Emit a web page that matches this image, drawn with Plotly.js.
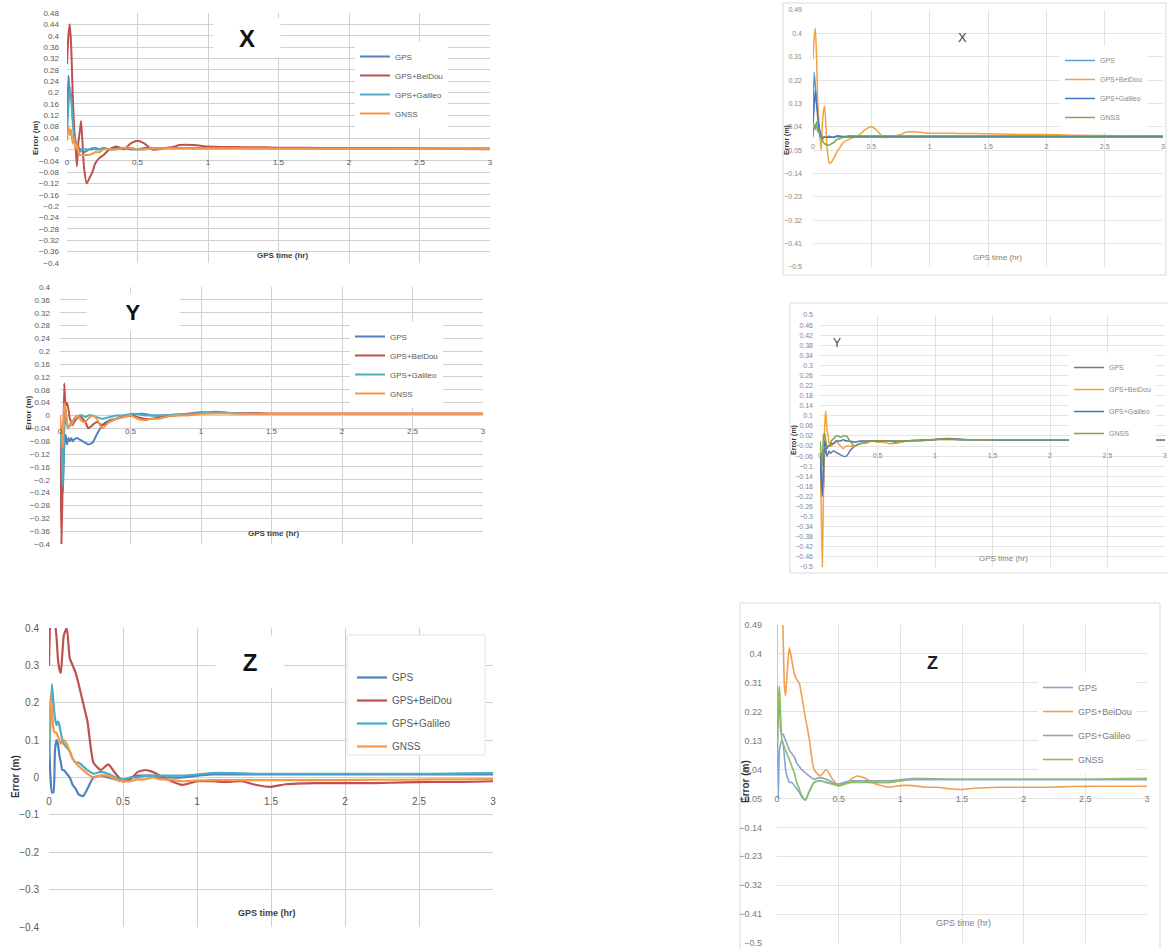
<!DOCTYPE html>
<html><head><meta charset="utf-8">
<script src="https://cdn.plot.ly/plotly-3.0.1.min.js"></script>
<style>html,body{margin:0;padding:0;background:#fff;}#chart{width:1168px;height:949px;}</style>
</head><body><div id="chart"></div>
<script>
// ---------------- DATA ----------------
const TIME = [0,0.01,0.02,0.03,0.04,0.05,0.06,0.07,0.08,0.09,0.10,0.12,0.14,0.16,0.18,0.20,0.23,0.26,0.30,0.35,0.40,0.45,0.50,0.55,0.60,0.65,0.70,0.75,0.80,0.90,1.00,1.10,1.20,1.30,1.40,1.50,1.60,1.80,2.00,2.20,2.40,2.60,2.80,3.00];
const SERIES_NAMES = ['GPS','GPS+BeiDou','GPS+Galileo','GNSS'];
const X_TICKS = [0,0.5,1,1.5,2,2.5,3];

// Left X panel
const LX_GPS     = [0.10,0.26,0.18,0.20,0.12,0.06,0.03,0.02,0.01,0.00,0.00,-0.01,-0.005,0.00,0.00,0.005,0.00,0.005,0.00,0.005,0.005,0.00,0.00,0.005,0.005,0.005,0.005,0.005,0.005,0.005,0.005,0.005,0.005,0.005,0.005,0.005,0.005,0.004,0.004,0.004,0.004,0.003,0.003,0.003];
const LX_BEIDOU  = [0.30,0.40,0.44,0.36,0.20,0.08,0.02,-0.06,0.02,0.06,0.10,-0.06,-0.12,-0.10,-0.08,-0.05,-0.03,-0.02,0.00,0.01,0.00,0.02,0.03,0.02,0.00,0.00,0.005,0.008,0.015,0.015,0.01,0.008,0.008,0.007,0.007,0.006,0.006,0.005,0.005,0.004,0.003,0.002,0.001,0.00];
const LX_GALILEO = [0.05,0.15,0.22,0.18,0.10,0.05,0.03,0.01,0.00,-0.01,-0.005,0.00,0.00,0.00,0.005,0.00,0.00,0.005,0.00,0.00,0.005,0.005,0.00,0.00,0.005,0.005,0.005,0.005,0.005,0.004,0.004,0.004,0.004,0.004,0.004,0.004,0.003,0.003,0.003,0.003,0.003,0.003,0.003,0.003];
const LX_GNSS    = [0.03,0.08,0.05,0.07,0.02,0.04,0.00,0.02,-0.01,-0.02,-0.02,-0.02,-0.02,-0.02,-0.015,-0.01,-0.01,0.00,0.00,0.00,0.005,0.005,0.00,0.00,0.003,0.003,0.003,0.003,0.003,0.003,0.003,0.003,0.003,0.003,0.003,0.002,0.002,0.002,0.002,0.002,0.002,0.002,0.002,0.002];

// Left Y panel
const LY_GPS     = [-0.05,-0.12,-0.24,-0.10,-0.06,-0.09,-0.07,-0.08,-0.07,-0.08,-0.075,-0.07,-0.075,-0.08,-0.085,-0.09,-0.085,-0.06,-0.03,-0.015,-0.01,-0.005,0.00,0.005,0.005,0.00,0.00,0.00,0.00,0.003,0.006,0.012,0.008,0.006,0.006,0.005,0.005,0.005,0.005,0.005,0.005,0.005,0.005,0.005];
const LY_BEIDOU  = [-0.05,-0.40,-0.18,0.10,0.03,0.04,0.02,-0.01,-0.02,-0.03,-0.02,-0.01,0.00,-0.01,-0.02,-0.04,-0.03,-0.02,-0.03,-0.02,-0.01,0.00,0.00,-0.005,-0.01,-0.01,-0.005,0.00,0.00,0.005,0.01,0.008,0.008,0.007,0.007,0.006,0.006,0.006,0.006,0.006,0.006,0.006,0.006,0.006];
const LY_GALILEO = [-0.02,-0.10,-0.22,-0.05,0.02,-0.03,-0.04,-0.03,-0.02,-0.02,-0.01,-0.01,0.00,0.00,-0.005,0.00,0.00,-0.005,-0.01,-0.005,0.00,0.00,0.005,0.005,0.00,0.00,0.00,0.00,0.003,0.005,0.008,0.01,0.008,0.006,0.005,0.005,0.005,0.005,0.005,0.005,0.005,0.005,0.005,0.005];
const LY_GNSS    = [0.00,-0.05,-0.10,0.04,0.02,-0.02,-0.04,-0.03,-0.03,-0.02,-0.01,0.00,-0.01,-0.02,-0.02,-0.01,0.00,-0.01,-0.04,-0.02,-0.01,-0.005,0.00,-0.01,-0.015,-0.01,-0.01,-0.005,0.00,0.00,0.005,0.006,0.006,0.005,0.005,0.005,0.005,0.005,0.005,0.005,0.005,0.005,0.005,0.005];

// Left Z panel
const LZ_GPS     = [0.10,0.00,-0.04,-0.04,0.07,0.10,0.09,0.06,0.04,0.02,0.02,0.01,0.00,-0.02,-0.03,-0.045,-0.05,-0.03,0.00,0.005,0.00,-0.005,-0.01,0.00,0.005,0.005,0.005,0.00,0.00,0.00,0.005,0.008,0.008,0.008,0.008,0.008,0.008,0.008,0.008,0.008,0.008,0.008,0.008,0.008];
const LZ_BEIDOU  = [0.30,0.45,0.48,0.45,0.42,0.38,0.32,0.29,0.28,0.33,0.38,0.40,0.32,0.30,0.28,0.25,0.20,0.15,0.04,0.02,0.035,0.01,-0.01,-0.005,0.015,0.02,0.015,0.005,-0.005,-0.02,-0.01,-0.01,-0.012,-0.01,-0.02,-0.025,-0.018,-0.015,-0.015,-0.015,-0.013,-0.012,-0.012,-0.01];
const LZ_GALILEO = [0.05,0.15,0.25,0.20,0.16,0.14,0.15,0.14,0.12,0.10,0.09,0.08,0.07,0.05,0.04,0.04,0.03,0.02,0.01,0.015,0.01,0.00,-0.005,0.00,0.00,0.005,0.005,0.005,0.005,0.005,0.008,0.012,0.012,0.011,0.01,0.01,0.01,0.01,0.01,0.01,0.01,0.01,0.011,0.012];
const LZ_GNSS    = [0.10,0.22,0.18,0.13,0.12,0.12,0.11,0.10,0.09,0.10,0.10,0.09,0.07,0.05,0.04,0.03,0.02,0.01,0.00,0.005,0.005,-0.005,-0.01,-0.01,-0.005,-0.005,0.00,-0.005,-0.005,-0.01,-0.008,-0.007,-0.007,-0.007,-0.007,-0.007,-0.007,-0.007,-0.007,-0.006,-0.006,-0.005,-0.005,-0.004];

// Right X panel
const RX_GPS     = [0.10,0.25,0.20,0.15,0.10,0.05,0.02,0.01,0.00,0.00,0.00,0.00,0.005,0.00,0.00,0.005,0.005,0.00,0.005,0.005,0.005,0.005,0.005,0.005,0.005,0.005,0.005,0.005,0.005,0.005,0.005,0.005,0.005,0.005,0.005,0.005,0.005,0.005,0.005,0.005,0.005,0.005,0.005,0.005];
const RX_BEIDOU  = [0.30,0.38,0.42,0.32,0.15,0.05,0.00,-0.05,0.05,0.10,0.12,-0.04,-0.10,-0.095,-0.08,-0.06,-0.04,-0.02,-0.01,0.00,0.01,0.03,0.04,0.025,0.00,0.00,0.005,0.01,0.02,0.02,0.015,0.015,0.015,0.014,0.014,0.013,0.012,0.01,0.01,0.008,0.007,0.006,0.005,0.005];
const RX_GALILEO = [0.05,0.12,0.18,0.13,0.08,0.04,0.02,0.00,-0.01,0.00,0.00,0.00,0.00,0.00,0.00,0.003,0.003,0.003,0.003,0.003,0.003,0.003,0.003,0.003,0.003,0.003,0.003,0.003,0.003,0.003,0.003,0.003,0.003,0.003,0.003,0.003,0.003,0.003,0.003,0.003,0.003,0.003,0.003,0.003];
const RX_GNSS    = [0.00,0.05,0.03,0.06,0.02,0.03,0.00,0.00,-0.01,-0.02,-0.025,-0.03,-0.03,-0.025,-0.02,-0.01,-0.005,0.00,0.00,0.00,0.00,0.00,0.00,0.00,0.00,0.00,0.00,0.00,0.00,0.00,0.00,0.00,0.00,0.00,0.00,0.00,0.00,0.00,0.00,0.00,0.00,0.00,0.00,0.00];

// Right Y panel
const RY_GPS     = [-0.05,-0.10,-0.18,-0.20,-0.05,-0.03,-0.06,-0.05,-0.04,-0.05,-0.045,-0.04,-0.045,-0.05,-0.055,-0.06,-0.06,-0.04,-0.02,-0.01,-0.005,0.00,0.00,0.00,0.00,-0.005,-0.005,0.00,0.00,0.002,0.005,0.01,0.008,0.005,0.005,0.004,0.004,0.004,0.004,0.004,0.004,0.004,0.004,0.004];
const RY_BEIDOU  = [-0.10,-0.25,-0.50,-0.20,0.05,0.12,0.05,0.02,-0.01,-0.02,-0.02,-0.01,0.00,-0.01,-0.02,-0.03,-0.02,-0.02,-0.02,-0.01,-0.01,0.00,-0.005,-0.005,-0.01,-0.01,-0.005,0.00,0.00,0.002,0.005,0.005,0.005,0.005,0.005,0.005,0.005,0.005,0.005,0.005,0.005,0.005,0.005,0.005];
const RY_GALILEO = [-0.05,-0.15,-0.22,-0.10,0.00,-0.02,-0.03,-0.02,-0.02,-0.015,-0.01,-0.01,0.00,0.00,0.00,0.005,0.00,0.00,-0.005,0.00,0.00,0.00,0.00,0.00,0.00,0.00,0.00,0.00,0.002,0.004,0.006,0.008,0.006,0.005,0.005,0.004,0.004,0.004,0.004,0.004,0.004,0.004,0.004,0.004];
const RY_GNSS    = [0.00,-0.05,-0.10,0.02,0.03,0.00,-0.02,-0.02,-0.02,-0.01,0.00,0.01,0.02,0.02,0.015,0.02,0.02,0.00,-0.02,-0.01,0.00,0.00,0.00,0.00,0.00,0.00,0.00,0.00,0.002,0.004,0.006,0.008,0.006,0.005,0.005,0.005,0.005,0.005,0.005,0.005,0.005,0.005,0.005,0.005];

// Right Z panel
const RZ_GPS     = [0.30,-0.05,0.10,0.12,0.13,0.12,0.08,0.04,0.02,0.01,0.00,0.00,-0.01,-0.02,-0.03,-0.045,-0.055,-0.03,0.00,0.005,0.00,-0.005,-0.01,0.00,0.005,0.005,0.005,0.00,0.00,0.00,0.005,0.008,0.008,0.008,0.008,0.008,0.008,0.008,0.008,0.008,0.008,0.008,0.008,0.008];
const RZ_BEIDOU  = [0.20,0.55,0.55,0.55,0.55,0.45,0.30,0.27,0.33,0.38,0.42,0.38,0.34,0.32,0.31,0.27,0.20,0.14,0.04,0.02,0.04,0.01,-0.01,-0.005,0.01,0.02,0.015,0.005,-0.005,-0.015,-0.01,-0.01,-0.015,-0.015,-0.02,-0.022,-0.018,-0.015,-0.015,-0.015,-0.013,-0.012,-0.012,-0.012];
const RZ_GALILEO = [0.10,0.20,0.25,0.16,0.15,0.15,0.14,0.13,0.12,0.11,0.10,0.09,0.08,0.06,0.05,0.04,0.03,0.02,0.01,0.015,0.01,0.00,-0.005,0.00,0.00,0.005,0.005,0.005,0.005,0.005,0.008,0.012,0.012,0.011,0.01,0.01,0.01,0.01,0.01,0.01,0.01,0.01,0.011,0.012];
const RZ_GNSS    = [0.05,0.25,0.30,0.20,0.13,0.12,0.11,0.10,0.09,0.08,0.07,0.05,0.03,0.00,-0.02,-0.04,-0.055,-0.03,0.00,0.005,0.00,-0.005,-0.01,-0.005,0.00,0.00,0.00,0.00,0.00,0.00,0.005,0.01,0.01,0.01,0.01,0.01,0.01,0.01,0.01,0.01,0.01,0.01,0.012,0.012];

// ---------------- LAYOUT / STYLE ----------------
const W = 1168, H = 949;
const fx = p => p / W;
const fy = p => 1 - p / H;

const LEFT_COLORS  = ['#4F81BD','#C0504D','#4BACC6','#F79646'];
const RX_COLORS    = ['#5B9BD5','#F2A33A','#4472C4','#70AD47'];
const RY_COLORS    = ['#5B7FA8','#F2A33A','#4472C4','#7FA548'];
const RZ_COLORS    = ['#7FA7D9','#F0A050','#8FA3BF','#8CBF5F'];

const PANELS = [
  {series:[LX_GPS,LX_BEIDOU,LX_GALILEO,LX_GNSS], colors:LEFT_COLORS, lw:2,
   x0:67, x1:490, yTop:13, yBot:263, yr:[-0.4,0.48], tick0:-0.4, dtick:0.04, tfs:8, ystand:7, xstand:7, tcol:'#595959',
   grid:'#d0d0d0', title:'X', tx:247, ty:38, tfont:{size:24, color:'#111', family:'Liberation Sans, Arial', weight:'bold'}, tbox:[64,36],
   gx:282, gy:255, gfont:8, gbold:true, ex:35, ey:138, efs:8,
   legX:355, legY:42, legFs:8, legGap:0, legColor:'#595959'},
  {series:[LY_GPS,LY_BEIDOU,LY_GALILEO,LY_GNSS], colors:LEFT_COLORS, lw:2,
   x0:60, x1:483, yTop:287, yBot:544, yr:[-0.4,0.4], tick0:-0.4, dtick:0.04, tfs:8, ystand:9, xstand:9, tcol:'#595959',
   grid:'#d0d0d0', title:'Y', tx:133, ty:312, tfont:{size:22, color:'#111', family:'Liberation Sans, Arial', weight:'bold'}, tbox:[90,34],
   gx:273, gy:533, gfont:8, gbold:true, ex:28, ey:413, efs:8,
   legX:350, legY:322, legFs:8, legGap:0, legColor:'#595959'},
  {series:[LZ_GPS,LZ_BEIDOU,LZ_GALILEO,LZ_GNSS], colors:LEFT_COLORS, lw:2.2,
   x0:49, x1:493, yTop:628, yBot:927, yr:[-0.4,0.4], tick0:-0.4, dtick:0.1, tfs:10, ystand:9, xstand:16, tcol:'#595959',
   grid:'#d0d0d0', title:'Z', tx:250, ty:662, tfont:{size:24, color:'#111', family:'Liberation Sans, Arial', weight:'bold'}, tbox:[66,50],
   gx:267, gy:913, gfont:9, gbold:true, ex:15, ey:777, efs:10,
   legX:352, legY:663, legFs:10, legGap:4, legColor:'#595959', legBox:[347,635,485,755]},
  {series:[RX_GPS,RX_BEIDOU,RX_GALILEO,RX_GNSS], colors:RX_COLORS, lw:1.5,
   x0:813, x1:1163, yTop:10, yBot:267, yr:[-0.5,0.49], tick0:-0.5, dtick:0.09, tfs:7, ystand:10, xstand:4, tcol:'#858585',
   grid:'#e3e3e3', title:'X', tx:962, ty:38, tfont:{size:13, color:'#444', family:'Liberation Sans, Arial'}, tbox:null,
   gx:997, gy:257, gfont:8, gbold:false, ex:787, ey:140, efs:7,
   legX:1060, legY:46, legFs:7, legGap:0, legColor:'#8a8a8a', frame:[783,3,1166,275]},
  {series:[RY_GPS,RY_BEIDOU,RY_GALILEO,RY_GNSS], colors:RY_COLORS, lw:1.5,
   x0:820, x1:1165, yTop:315, yBot:567, yr:[-0.5,0.5], tick0:-0.5, dtick:0.04, tfs:7, ystand:6, xstand:9, tcol:'#858585',
   grid:'#e3e3e3', title:'Y', tx:837, ty:343, tfont:{size:12, color:'#444', family:'Liberation Sans, Arial'}, tbox:null,
   gx:1003, gy:558, gfont:8, gbold:false, ex:794, ey:440, efs:7,
   legX:1069, legY:353, legFs:7, legGap:3, legColor:'#8a8a8a', frame:[790,303,1172,573]},
  {series:[RZ_GPS,RZ_BEIDOU,RZ_GALILEO,RZ_GNSS], colors:RZ_COLORS, lw:1.6,
   x0:777, x1:1147, yTop:625, yBot:943, yr:[-0.5,0.49], tick0:-0.5, dtick:0.09, tfs:9, ystand:14, xstand:10, tcol:'#7a7a7a',
   grid:'#e3e3e3', title:'Z', tx:933, ty:663, tfont:{size:18, color:'#222', family:'Liberation Sans, Arial', weight:'bold'}, tbox:null,
   gx:963, gy:923, gfont:9, gbold:false, ex:745, ey:782, efs:10,
   legX:1038, legY:673, legFs:9, legGap:5, legColor:'#7a7a7a', frame:[740,603,1160,952]}
];

const traces = [];
const layout = {
  width: W, height: H, autosize: false,
  margin: {l:0, r:0, t:0, b:0, pad:0},
  paper_bgcolor: '#ffffff', plot_bgcolor: 'rgba(0,0,0,0)',
  font: {family: 'Liberation Sans, Arial, sans-serif', color: '#595959'},
  showlegend: true,
  annotations: [], shapes: []
};

PANELS.forEach((p, i) => {
  const n = i + 1;
  const xa = n === 1 ? 'xaxis' : 'xaxis' + n;
  const ya = n === 1 ? 'yaxis' : 'yaxis' + n;
  const xr = n === 1 ? 'x' : 'x' + n;
  const yrName = n === 1 ? 'y' : 'y' + n;
  const lg = n === 1 ? 'legend' : 'legend' + n;
  const zeroPx = p.yTop + (p.yr[1] - 0) / (p.yr[1] - p.yr[0]) * (p.yBot - p.yTop);

  layout[xa] = {
    domain: [fx(p.x0), fx(p.x1)], range: [0, 3], tickmode: 'array', tickvals: X_TICKS,
    anchor: 'free', position: fy(zeroPx),
    showgrid: true, gridcolor: p.grid, gridwidth: 1, zeroline: false, showline: false,
    ticks: '', ticklabelstandoff: p.xstand, tickfont: {size: p.tfs, color: p.tcol},
    fixedrange: true
  };
  layout[ya] = {
    domain: [fy(p.yBot), fy(p.yTop)], range: p.yr, tick0: p.tick0, dtick: p.dtick, tickmode: 'linear',
    anchor: xr, showgrid: true, gridcolor: p.grid, gridwidth: 1, zeroline: false, showline: false,
    ticks: '', ticklabelstandoff: p.ystand, tickfont: {size: p.tfs, color: p.tcol},
    fixedrange: true
  };
  layout[lg] = {
    x: fx(p.legX), y: fy(p.legY), xanchor: 'left', yanchor: 'top',
    bgcolor: p.legBox ? 'rgba(0,0,0,0)' : '#ffffff', bordercolor: 'rgba(0,0,0,0)', borderwidth: 0,
    font: {size: p.legFs, color: p.legColor}, traceorder: 'grouped', tracegroupgap: p.legGap,
    itemwidth: 30
  };
  if (p.legBox) {
    layout.shapes.push({type: 'rect', xref: 'paper', yref: 'paper', layer: 'above',
      x0: fx(p.legBox[0]), x1: fx(p.legBox[2]), y0: fy(p.legBox[3]), y1: fy(p.legBox[1]),
      line: {color: '#e4e4e4', width: 1}, fillcolor: '#ffffff'});
  }

  SERIES_NAMES.forEach((name, k) => {
    traces.push({
      type: 'scatter', mode: 'lines', name: name,
      x: TIME, y: p.series[k],
      xaxis: xr, yaxis: yrName, legend: lg, legendgroup: 'p' + n + 's' + k,
      line: {color: p.colors[k], width: p.lw, shape: 'spline', smoothing: 0.5},
      hoverinfo: 'x+y+name'
    });
  });

  const ann = {
    xref: 'paper', yref: 'paper', x: fx(p.tx), y: fy(p.ty), xanchor: 'center', yanchor: 'middle',
    text: p.title, showarrow: false, font: p.tfont
  };
  if (p.tbox) { ann.bgcolor = '#ffffff'; ann.width = p.tbox[0]; ann.height = p.tbox[1]; }
  layout.annotations.push(ann);
  layout.annotations.push({
    xref: 'paper', yref: 'paper', x: fx(p.gx), y: fy(p.gy), xanchor: 'center', yanchor: 'middle',
    text: p.gbold ? '<b>GPS time (hr)</b>' : 'GPS time (hr)', showarrow: false,
    font: {size: p.gfont, color: p.gbold ? '#404040' : '#7f7f7f'}
  });
  layout.annotations.push({
    xref: 'paper', yref: 'paper', x: fx(p.ex), y: fy(p.ey), xanchor: 'center', yanchor: 'middle',
    text: '<b>Error (m)</b>', textangle: -90, showarrow: false,
    font: {size: p.efs, color: '#333'}
  });
  if (p.frame) {
    layout.shapes.push({type: 'rect', xref: 'paper', yref: 'paper', layer: 'below',
      x0: fx(p.frame[0]), x1: fx(p.frame[2]), y0: fy(p.frame[3]), y1: fy(p.frame[1]),
      line: {color: '#d9d9d9', width: 1}, fillcolor: 'rgba(0,0,0,0)'});
  }
});

Plotly.newPlot('chart', traces, layout, {staticPlot: true, displayModeBar: false});
</script>
</body></html>
